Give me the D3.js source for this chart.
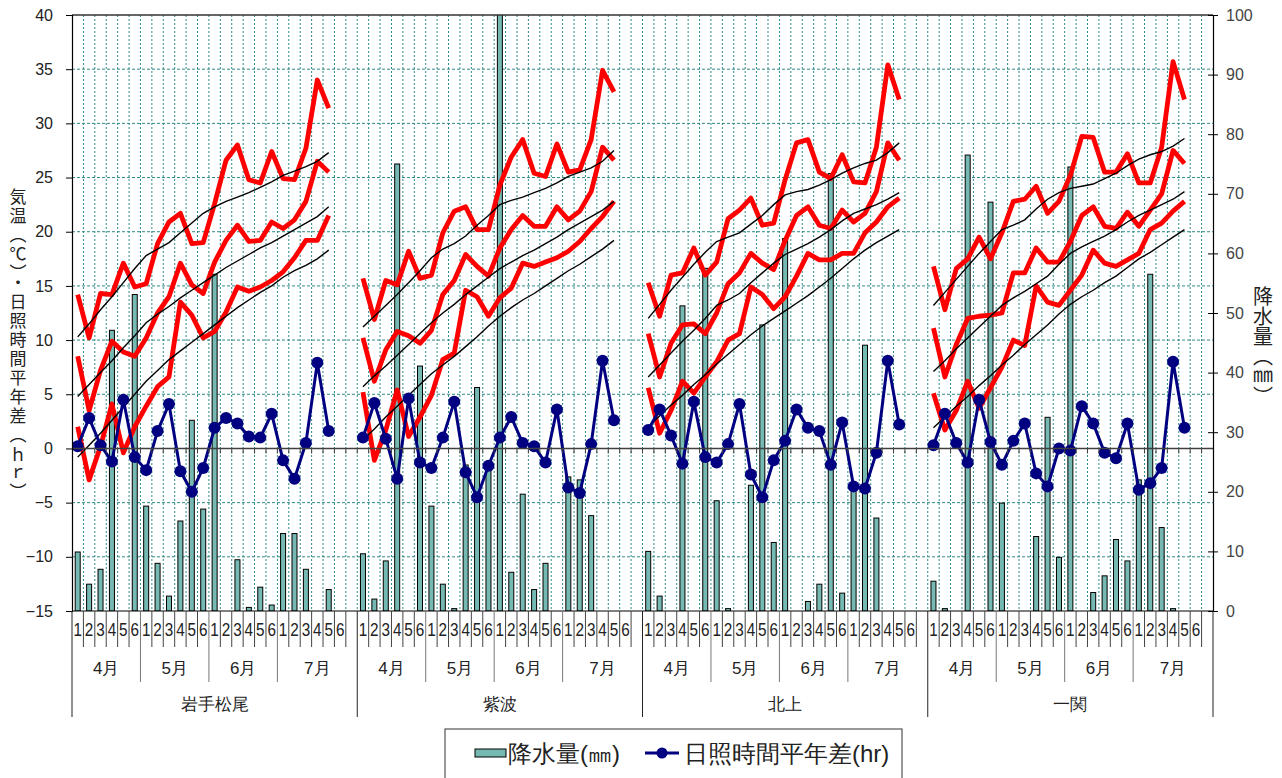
<!DOCTYPE html>
<html>
<head>
<meta charset="utf-8">
<script src="https://cdn.jsdelivr.net/npm/d3@7/dist/d3.min.js"></script>
<style>
	body { margin: 0; background: #fff; }
	text { font-family: "Liberation Sans", Arial, sans-serif; }
	.jp { font-family: "Noto Sans CJK JP", sans-serif; }
</style>
</head>
<body>
<svg id="chart" width="1282" height="778"></svg>
<script>
// categories
const stations = ["岩手松尾", "紫波", "北上", "一関"];
const months   = ["4月", "5月", "6月", "7月"];
const periods  = ["1", "2", "3", "4", "5", "6"];
const tempTicks = [-15, -10, -5, 0, 5, 10, 15, 20, 25, 30, 35, 40];
const rainTicks = [0, 10, 20, 30, 40, 50, 60, 70, 80, 90, 100];

// one row per station, 23 half-decades (4月1 .. 7月5)
const tMax = [
	[14.2, 10.2, 14.3, 14.2, 17.1, 14.9, 15.2, 18.9, 20.9, 21.7, 18.9, 19.0, 22.6, 26.6, 28.0, 24.8, 24.5, 27.4, 24.9, 24.8, 27.7, 34.0, 31.4],
	[15.7, 11.9, 15.5, 15.1, 18.2, 15.7, 16.0, 19.9, 21.9, 22.3, 20.2, 20.2, 24.3, 26.9, 28.5, 25.4, 25.1, 28.1, 25.5, 25.7, 28.5, 34.9, 32.9],
	[15.3, 12.2, 16.0, 16.2, 18.5, 16.0, 17.2, 21.2, 22.0, 23.1, 20.6, 20.8, 24.8, 28.2, 28.5, 25.5, 24.9, 27.1, 24.6, 24.5, 27.8, 35.4, 32.2],
	[16.8, 12.8, 16.6, 17.5, 19.5, 17.5, 19.9, 22.8, 23.0, 24.2, 21.7, 22.8, 25.2, 28.8, 28.7, 25.5, 25.5, 27.2, 24.5, 24.5, 27.8, 35.7, 32.2]
];
const tMean = [
	[8.5, 3.5, 7.2, 9.9, 8.9, 8.5, 10.2, 12.5, 14.0, 17.1, 15.1, 14.3, 17.2, 19.2, 20.6, 19.1, 19.2, 20.9, 20.3, 21.1, 22.8, 26.5, 25.5],
	[10.2, 6.2, 9.1, 10.8, 10.4, 9.7, 10.9, 14.2, 15.5, 17.9, 16.8, 15.9, 18.5, 20.2, 21.5, 20.5, 20.5, 22.3, 21.1, 21.9, 23.7, 27.8, 26.6],
	[10.6, 6.6, 9.7, 11.4, 11.5, 10.6, 12.5, 15.2, 16.2, 18.0, 17.1, 16.5, 19.2, 21.5, 22.3, 20.6, 20.3, 22.0, 20.9, 21.7, 23.7, 28.2, 26.6],
	[11.1, 6.6, 9.6, 12.0, 12.2, 12.3, 12.5, 16.2, 16.2, 18.5, 17.2, 17.2, 19.1, 21.5, 22.3, 20.5, 20.3, 21.8, 20.5, 22.0, 23.5, 27.5, 26.3]
];
const tMin = [
	[2.0, -2.9, 0.2, 4.1, -0.4, 2.0, 3.9, 5.7, 6.6, 13.5, 12.3, 10.2, 10.8, 12.6, 14.9, 14.5, 14.9, 15.5, 16.3, 17.6, 19.2, 19.2, 21.5],
	[5.2, -1.1, 1.7, 5.4, 1.1, 2.9, 4.9, 8.2, 8.8, 14.6, 14.0, 12.2, 13.9, 14.8, 17.1, 16.8, 17.2, 17.6, 18.2, 19.1, 20.3, 21.4, 22.8],
	[5.6, 1.4, 3.5, 6.2, 5.1, 6.6, 8.0, 10.0, 10.6, 14.9, 14.2, 12.9, 14.0, 15.9, 18.0, 17.4, 17.4, 18.0, 18.0, 19.9, 20.9, 22.3, 23.1],
	[5.1, 1.7, 3.5, 6.2, 3.7, 5.6, 7.5, 10.0, 9.5, 15.0, 13.5, 13.2, 14.6, 16.0, 18.3, 17.1, 16.8, 17.4, 18.0, 20.2, 20.8, 21.9, 22.8]
];
// normals
const nMax = [
	[10.3, 11.5, 12.8, 14.0, 15.3, 16.6, 17.8, 18.4, 19.0, 19.9, 20.8, 21.7, 22.3, 22.8, 23.2, 23.6, 24.1, 24.6, 25.2, 25.6, 26.0, 26.5, 27.3],
	[11.2, 12.2, 13.2, 14.2, 15.3, 16.4, 17.6, 18.4, 18.9, 19.6, 20.6, 21.5, 22.5, 22.9, 23.2, 23.6, 24.0, 24.5, 25.1, 25.5, 25.9, 26.5, 27.5],
	[12.0, 13.3, 14.6, 15.8, 17.0, 18.1, 19.1, 19.5, 19.9, 20.7, 21.5, 22.5, 23.4, 23.7, 23.9, 24.3, 24.8, 25.4, 25.9, 26.3, 26.6, 27.3, 28.2],
	[13.2, 14.4, 15.6, 16.8, 18.0, 19.1, 20.2, 20.6, 21.1, 22.1, 23.0, 23.6, 24.0, 24.2, 24.4, 24.9, 25.4, 26.1, 26.7, 27.1, 27.4, 27.9, 28.6]
];
const nMean = [
	[4.8, 5.9, 7.0, 8.1, 9.3, 10.4, 11.6, 12.4, 13.1, 13.9, 14.6, 15.3, 16.0, 16.7, 17.3, 17.9, 18.5, 19.0, 19.6, 20.2, 20.8, 21.4, 22.3],
	[5.7, 6.7, 7.6, 8.6, 9.6, 10.6, 11.6, 12.5, 13.3, 14.2, 15.0, 15.8, 16.6, 17.2, 17.8, 18.3, 18.9, 19.5, 20.2, 20.8, 21.4, 22.0, 22.8],
	[6.6, 7.7, 8.8, 9.9, 10.9, 12.0, 13.2, 13.7, 14.3, 15.3, 16.2, 17.1, 17.9, 18.4, 18.9, 19.5, 20.2, 21.0, 21.7, 22.1, 22.5, 23.0, 23.6],
	[7.1, 8.1, 9.2, 10.2, 11.2, 12.2, 13.2, 13.9, 14.5, 15.2, 15.9, 17.0, 18.0, 18.6, 19.1, 19.6, 20.2, 20.9, 21.5, 22.0, 22.5, 23.0, 23.7]
];
const nMin = [
	[-0.8, 0.3, 1.4, 2.6, 3.8, 5.0, 6.2, 7.2, 8.2, 9.0, 9.8, 10.6, 11.4, 12.2, 13.0, 13.7, 14.4, 15.0, 15.8, 16.4, 16.9, 17.5, 18.3],
	[0.8, 1.8, 2.9, 3.9, 4.9, 5.9, 6.9, 7.7, 8.5, 9.4, 10.3, 11.3, 12.2, 13.0, 13.7, 14.3, 15.0, 15.7, 16.4, 17.0, 17.7, 18.4, 19.2],
	[2.0, 3.0, 4.0, 4.9, 5.9, 6.8, 7.8, 8.7, 9.6, 10.5, 11.3, 12.0, 12.7, 13.4, 14.1, 14.9, 15.7, 16.6, 17.5, 18.3, 19.0, 19.6, 20.2],
	[1.9, 2.9, 3.9, 4.8, 5.8, 6.7, 7.7, 8.6, 9.6, 10.5, 11.4, 12.4, 13.3, 14.0, 14.6, 15.3, 15.9, 16.7, 17.5, 18.1, 18.8, 19.5, 20.2]
];
// 日照時間平年差 (hr)
const sunDiff = [
	[0.2, 2.8, 0.3, -1.2, 4.5, -0.8, -2.0, 1.6, 4.1, -2.1, -4.0, -1.8, 1.9, 2.8, 2.3, 1.1, 1.0, 3.2, -1.1, -2.8, 0.5, 7.9, 1.6],
	[1.0, 4.2, 0.9, -2.8, 4.6, -1.3, -1.8, 1.0, 4.3, -2.2, -4.5, -1.6, 1.0, 2.9, 0.5, 0.2, -1.3, 3.6, -3.6, -4.1, 0.4, 8.1, 2.6],
	[1.7, 3.6, 1.2, -1.4, 4.3, -0.8, -1.3, 0.4, 4.1, -2.4, -4.5, -1.1, 0.7, 3.6, 1.9, 1.6, -1.5, 2.4, -3.5, -3.7, -0.4, 8.1, 2.2],
	[0.3, 3.2, 0.5, -1.3, 4.5, 0.6, -1.5, 0.7, 2.3, -2.3, -3.5, 0.0, -0.2, 3.9, 2.3, -0.4, -0.9, 2.3, -3.8, -3.2, -1.8, 8.0, 1.9]
];
// 降水量 (mm), null = no bar
const rain = [
	[9.9, 4.5, 7.0, 47.1, null, 53.1, 17.6, 8.0, 2.5, 15.1, 32.0, 17.1, 56.5, null, 8.6, 0.6, 4.0, 1.0, 13.0, 13.0, 7.0, null, 3.6],
	[9.6, 2.0, 8.4, 75.0, null, 41.1, 17.6, 4.5, 0.4, 24.5, 37.5, 24.5, 104, 6.5, 19.6, 3.6, 8.0, null, 22.5, 22.0, 16.0, null, null],
	[10.0, 2.5, null, 51.2, null, 57.5, 18.5, 0.4, null, 21.1, 48.0, 11.5, 62.5, null, 1.6, 4.5, 73.4, 3.0, 20.3, 44.6, 15.6, null, null],
	[5.0, 0.4, null, 76.5, null, 68.6, 18.1, null, null, 12.5, 32.5, 9.0, 74.5, null, 3.1, 5.9, 12.0, 8.4, 22.0, 56.5, 14.0, 0.4, null]
];

const svg = d3.select("#chart");
const plotL = 72, plotR = 1213, plotT = 15, plotB = 611;

let x0 = d3.scaleBand().domain(stations).range([plotL, plotR]).padding(0);
let x  = d3.scaleBand().domain(d3.range(25)).range([0, x0.bandwidth()]).padding(0);
let y  = d3.scaleLinear().domain([-15, 40]).range([plotB, plotT]);
let y2 = d3.scaleLinear().domain([0, 100]).range([plotB, plotT]);

const cx = (s, i) => x0(stations[s]) + x(i) + x.bandwidth() / 2;
const minus = (d) => (d < 0 ? "\u2212" + (-d) : "" + d);

svg.append("clipPath").attr("id", "plot-clip")
	.append("rect").attr("x", plotL).attr("y", plotT).attr("width", plotR - plotL).attr("height", plotB - plotT);

// grid
let grid = svg.append("g").attr("class", "grid");
let bounds = [];
stations.forEach((s) => d3.range(25).forEach((k) => bounds.push(x0(s) + x(k))));
grid.selectAll(".vgrid").data(bounds.slice(1)).enter().append("line")
	.attr("x1", (d) => d).attr("x2", (d) => d)
	.attr("y1", plotT).attr("y2", plotB)
	.attr("stroke", "#2e8b87").attr("stroke-width", 1).attr("stroke-dasharray", "2,2");
grid.selectAll(".hgrid").data(tempTicks.filter((t) => t > -15 && t < 40 && t !== 0)).enter().append("line")
	.attr("x1", plotL).attr("x2", plotR)
	.attr("y1", (d) => y(d)).attr("y2", (d) => y(d))
	.attr("stroke", "#2e8b87").attr("stroke-width", 1).attr("stroke-dasharray", "3,2");

// bars
let plot = svg.append("g").attr("clip-path", "url(#plot-clip)");
let barW = 5;
stations.forEach((st, s) => {
	plot.append("g").selectAll("rect")
		.data(rain[s].map((v, i) => ({ v: v, i: i })).filter((o) => o.v !== null))
		.enter().append("rect")
		.attr("x", (o) => cx(s, o.i) - barW / 2)
		.attr("width", barW)
		.attr("y", (o) => y2(o.v))
		.attr("height", (o) => plotB - y2(o.v))
		.attr("fill", "#76b9b2")
		.attr("stroke", "#000")
		.attr("stroke-width", 1);
});

// zero line and its ticks
svg.append("line")
	.attr("x1", plotL).attr("x2", plotR).attr("y1", y(0)).attr("y2", y(0))
	.attr("stroke", "#404040").attr("stroke-width", 1.5);
svg.append("g").selectAll("line").data(bounds.slice(1)).enter().append("line")
	.attr("x1", (d) => d).attr("x2", (d) => d)
	.attr("y1", y(0)).attr("y2", y(0) + 5)
	.attr("stroke", "#404040");

// temperature lines
let line = (s) => d3.line().x((d, i) => cx(s, i)).y((d) => y(d));
stations.forEach((st, s) => {
	[tMax, tMean, tMin].forEach((series) => {
		plot.append("path").datum(series[s])
			.attr("d", line(s))
			.attr("fill", "none").attr("stroke", "#ff0000")
			.attr("stroke-width", 4.8).attr("stroke-linejoin", "round");
	});
	[nMax, nMean, nMin].forEach((series) => {
		plot.append("path").datum(series[s])
			.attr("d", line(s))
			.attr("fill", "none").attr("stroke", "#000")
			.attr("stroke-width", 1.4);
	});
});

// sunshine anomaly
stations.forEach((st, s) => {
	plot.append("path").datum(sunDiff[s])
		.attr("d", line(s))
		.attr("fill", "none").attr("stroke", "#000080").attr("stroke-width", 3);
	plot.append("g").selectAll("circle").data(sunDiff[s]).enter().append("circle")
		.attr("cx", (d, i) => cx(s, i))
		.attr("cy", (d) => y(d))
		.attr("r", 6)
		.attr("fill", "#000080");
});

// frame
svg.append("line").attr("x1", plotL).attr("x2", plotR).attr("y1", plotT).attr("y2", plotT)
	.attr("stroke", "#333").attr("stroke-width", 1.5);
svg.append("line").attr("x1", plotL).attr("x2", plotR).attr("y1", plotB).attr("y2", plotB)
	.attr("stroke", "#000").attr("stroke-width", 1);

// left axis
let axL = svg.append("g").attr("transform", "translate(" + plotL + ",0)")
	.call(d3.axisLeft(y).tickValues(tempTicks).tickSize(6).tickPadding(13).tickFormat(minus));
axL.select(".domain").attr("stroke", "#000").attr("stroke-width", 1.2);
axL.selectAll(".tick line").attr("stroke", "#000");
axL.selectAll(".tick text").attr("font-size", 16).attr("fill", "#222")
	.style("font-family", "'Liberation Sans', Arial, sans-serif");

// right axis
let axR = svg.append("g").attr("transform", "translate(" + plotR + ",0)")
	.call(d3.axisRight(y2).tickValues(rainTicks).tickSize(5).tickPadding(8));
axR.select(".domain").attr("stroke", "#000").attr("stroke-width", 1.2);
axR.selectAll(".tick line").attr("x1", -5).attr("stroke", "#000");
axR.selectAll(".tick text").attr("font-size", 16).attr("fill", "#444")
	.style("font-family", "'Liberation Sans', Arial, sans-serif");

// category axis: periods, months, stations
let cat = svg.append("g").attr("class", "jp");
stations.forEach((st, s) => {
	let sx = x0(st);
	d3.range(25).forEach((k) => {
		let len = k === 0 ? 106 : (k % 6 === 0 && k < 24 ? 71 : 36);
		cat.append("line")
			.attr("x1", sx + x(k)).attr("x2", sx + x(k))
			.attr("y1", plotB).attr("y2", plotB + len)
			.attr("stroke", k === 0 ? "#222" : (len === 71 ? "#777" : "#444"));
	});
	months.forEach((m, mi) => {
		periods.forEach((p, pi) => {
			let k = mi * 6 + pi;
			cat.append("text")
				.attr("transform", "translate(" + (sx + x(k) + x.bandwidth() / 2) + ",630) scale(0.85,1)")
				.attr("text-anchor", "middle").attr("dominant-baseline", "central")
				.attr("font-size", 18).attr("fill", "#222")
				.text(p);
		});
		let k0 = mi * 6, k1 = mi === 3 ? 25 : mi * 6 + 6;
		cat.append("text")
			.attr("x", sx + (x(k0) + k1 * x.bandwidth()) / 2)
			.attr("y", 668)
			.attr("text-anchor", "middle").attr("dominant-baseline", "central")
			.attr("font-size", 17).attr("fill", "#222")
			.text(m);
	});
	cat.append("text")
		.attr("x", sx + x0.bandwidth() / 2)
		.attr("y", 704)
		.attr("text-anchor", "middle").attr("dominant-baseline", "central")
		.attr("font-size", 17).attr("fill", "#222")
		.text(st);
});
cat.append("line").attr("x1", plotR).attr("x2", plotR).attr("y1", plotB).attr("y2", plotB + 106).attr("stroke", "#222");

// axis titles
svg.append("text").attr("class", "jp")
	.attr("x", 18).attr("y", 188)
	.style("writing-mode", "vertical-rl")
	.attr("font-size", 17).attr("letter-spacing", 2).attr("fill", "#222")
	.text("気温（℃）・日照時間平年差（ｈｒ）");
svg.append("text").attr("class", "jp")
	.attr("x", 1263).attr("y", 286)
	.style("writing-mode", "vertical-rl")
	.attr("font-size", 20).attr("fill", "#222")
	.text("降水量（㎜）");

// legend
let lg = svg.append("g").attr("class", "jp");
lg.append("rect").attr("x", 445).attr("y", 729).attr("width", 457).attr("height", 70)
	.attr("fill", "#fff").attr("stroke", "#333");
lg.append("rect").attr("x", 475).attr("y", 749).attr("width", 31).attr("height", 8)
	.attr("fill", "#76b9b2").attr("stroke", "#000");
lg.append("text").attr("x", 508).attr("y", 753).attr("dominant-baseline", "central")
	.attr("font-size", 24).attr("fill", "#222").text("降水量(㎜)");
lg.append("line").attr("x1", 645).attr("x2", 679).attr("y1", 753).attr("y2", 753)
	.attr("stroke", "#000080").attr("stroke-width", 3);
lg.append("circle").attr("cx", 662).attr("cy", 753).attr("r", 5.5).attr("fill", "#000080");
lg.append("text").attr("x", 684).attr("y", 753).attr("dominant-baseline", "central")
	.attr("font-size", 24).attr("fill", "#222").text("日照時間平年差(hr)");
</script>
</body>
</html>
